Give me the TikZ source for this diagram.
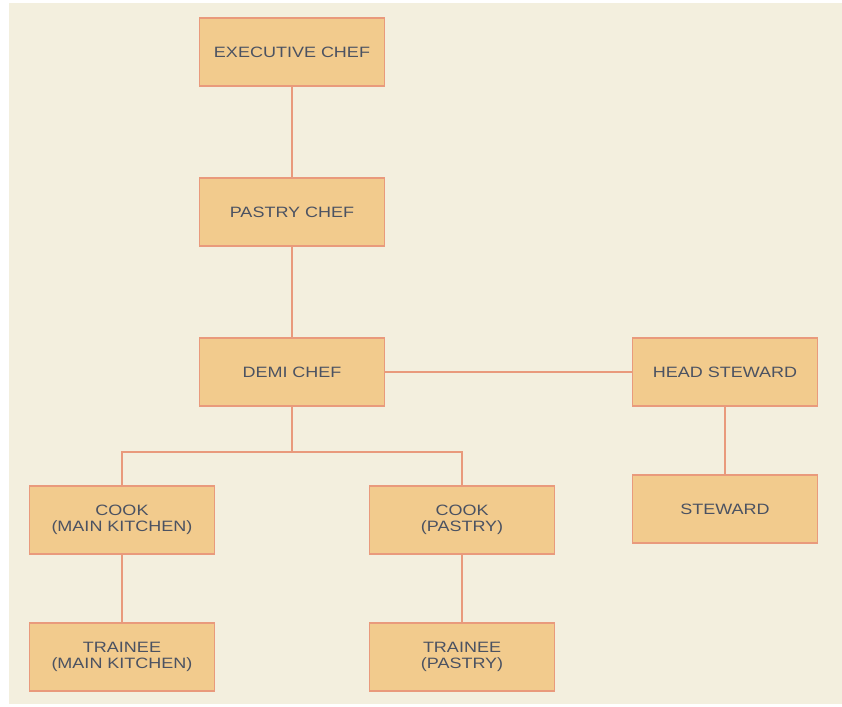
\documentclass[tikz,border=0pt]{standalone}
\usepackage{fontspec}
\setmainfont{Liberation Sans}[FakeStretch=1.2]
\usepackage{tikz}
\usepackage{color}
\definecolor{bgcream}{HTML}{F3EFDE}
\definecolor{boxfill}{HTML}{F2CB8D}
\definecolor{boxline}{HTML}{E99A7C}
\definecolor{boxtext}{HTML}{4B5262}

\begin{document}
\begin{tikzpicture}[x=1pt,y=-1pt]
						\tikzstyle{post}=[draw=boxline,line width=1.6pt,fill=boxfill,minimum width=185pt,minimum height=68pt,inner sep=0pt,align=center,text=boxtext,font=\fontsize{15}{16.5}\selectfont]
						\tikzstyle{link}=[draw=boxline,line width=1.5pt]
						\useasboundingbox (0,0) rectangle (842,706);
						\fill [bgcream] (9,3) rectangle (842,704);
						\node [post] (exec) at (292,52) {EXECUTIVE CHEF};
						\node [post] (pastry) at (292,212) {PASTRY CHEF};
						\node [post] (demi) at (292,372) {DEMI CHEF};
						\node [post] (headst) at (725,372) {HEAD STEWARD};
						\node [post] (steward) at (725,509) {STEWARD};
						\node [post] (cookmain) at (122,520) {COOK\\(MAIN KITCHEN)};
						\node [post] (cookpastry) at (462,520) {COOK\\(PASTRY)};
						\node [post] (traineemain) at (122,657) {TRAINEE\\(MAIN KITCHEN)};
						\node [post] (traineepastry) at (462,657) {TRAINEE\\(PASTRY)};
						\coordinate (split) at (292,452);
						\draw [link] (exec.south) -- (pastry.north);
						\draw [link] (pastry.south) -- (demi.north);
						\draw [link] (demi.east) -- (headst.west);
						\draw [link] (headst.south) -- (steward.north);
						\draw [link] (demi.south) -- (split);
						\draw [link] (cookmain.north) |- (split) -| (cookpastry.north);
						\draw [link] (cookmain.south) -- (traineemain.north);
						\draw [link] (cookpastry.south) -- (traineepastry.north);
					\end{tikzpicture}
\end{document}
